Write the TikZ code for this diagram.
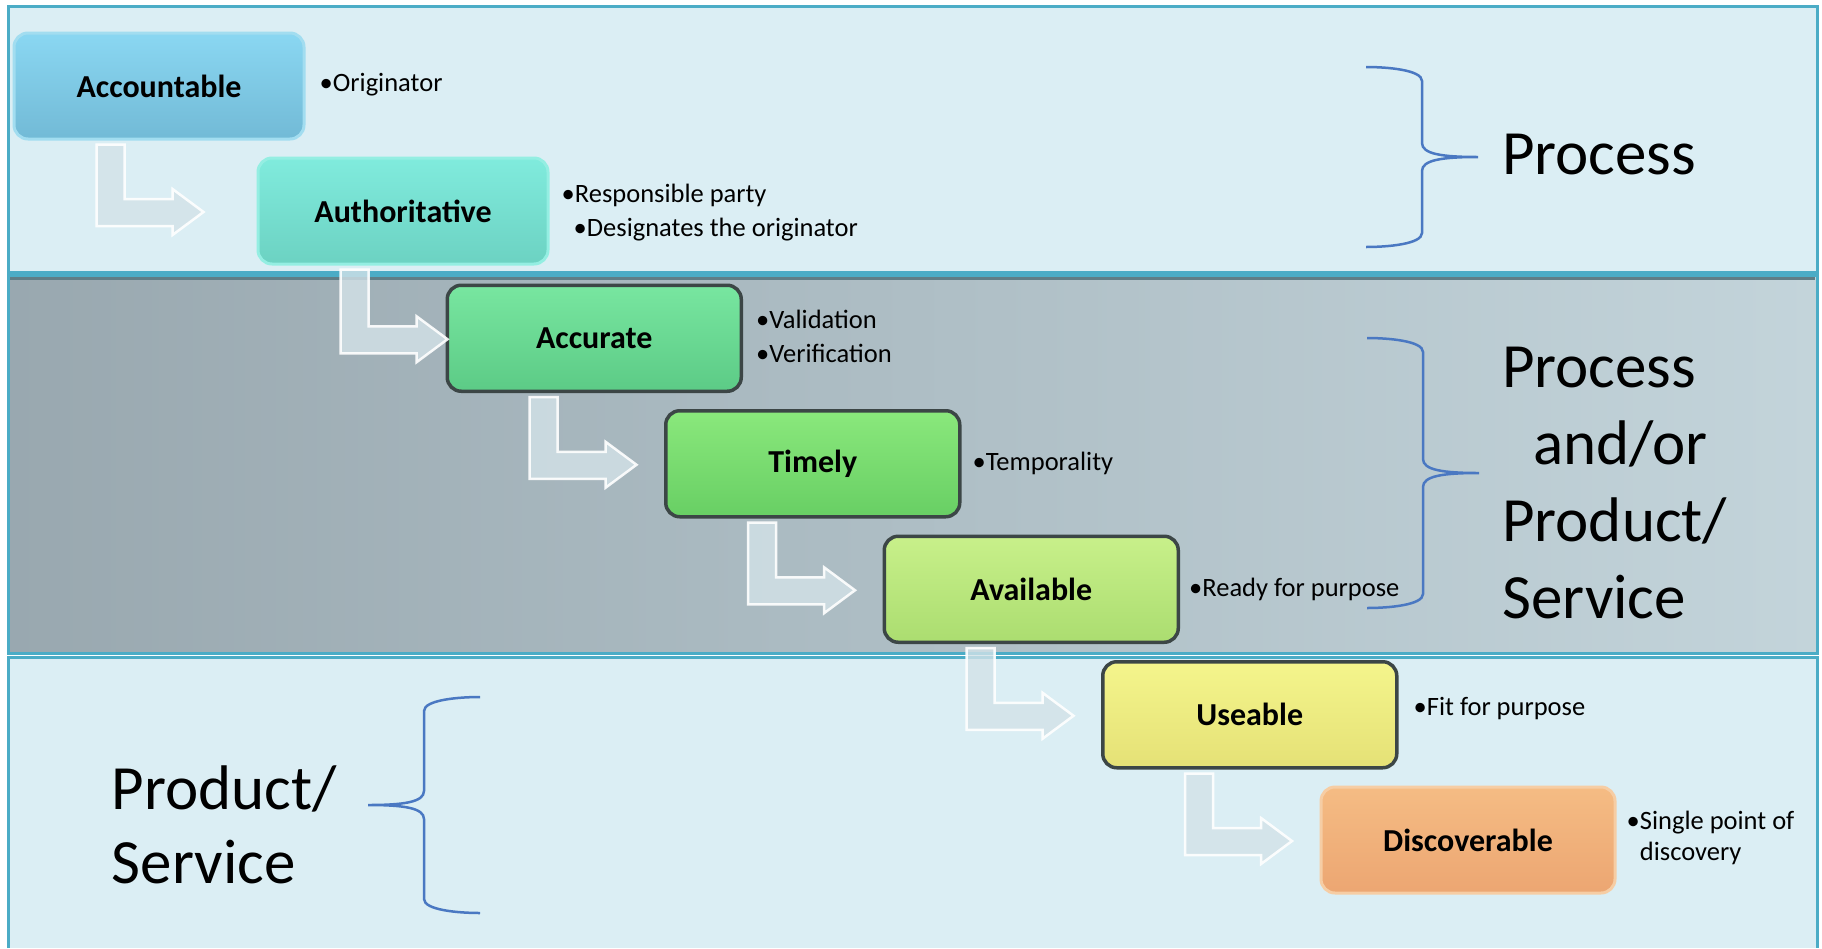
\documentclass[tikz,border=0pt]{standalone}
\usepackage{fontspec}
\setmainfont{Carlito}
\usetikzlibrary{positioning,calc}

\definecolor{panelbg}{HTML}{DBEEF4}
\definecolor{panelrule}{HTML}{4BACC6}
\definecolor{panelshade}{HTML}{5F7D86}
\definecolor{midleft}{HTML}{84929A}
\definecolor{midright}{HTML}{D8EAF0}
\definecolor{bracecol}{HTML}{4A78C2}
\definecolor{rimgray}{HTML}{3C4646}
\definecolor{arrowface}{HTML}{D3E2E8}
\definecolor{accTop}{HTML}{8AD7F2}\definecolor{accBot}{HTML}{72BAD6}\definecolor{accRim}{HTML}{A2DDF0}
\definecolor{autTop}{HTML}{80EBDD}\definecolor{autBot}{HTML}{6CD2C2}\definecolor{autRim}{HTML}{94EEE2}
\definecolor{acuTop}{HTML}{78E6A0}\definecolor{acuBot}{HTML}{5CCB86}
\definecolor{timTop}{HTML}{8AE87C}\definecolor{timBot}{HTML}{68CF64}
\definecolor{avaTop}{HTML}{C8F08A}\definecolor{avaBot}{HTML}{ABDD70}
\definecolor{useTop}{HTML}{F4F58C}\definecolor{useBot}{HTML}{E5E176}
\definecolor{disTop}{HTML}{F5BC84}\definecolor{disBot}{HTML}{ECA672}\definecolor{disRim}{HTML}{F6CDA4}

\tikzset{
  stage/.style={rounded corners=14pt, minimum width=290pt, minimum height=106pt,
    line width=3pt, inner sep=0pt, font=\fontsize{32}{38}\selectfont\bfseries},
  rimdark/.style={draw=rimgray, line width=3.5pt, minimum width=294pt},
  note/.style={font=\fontsize{26.5}{34}\selectfont, align=left, inner sep=0pt},
  big/.style={font=\fontsize{63}{77}\selectfont, align=left, inner sep=0pt},
  brace/.style={draw=bracecol, line width=2.5pt},
  bentarrow/.style={fill=arrowface, fill opacity=.8, draw=white, draw opacity=.9,
    line width=2.5pt, line join=miter},
}

% L-shaped step arrow from one stage to the next
\newcommand\bentlink[2]{%
  \path[bentarrow] let \p1=(#1.south west), \p2=(#2.west) in
    (\x1+84pt,\y1-4pt) -- (\x1+112pt,\y1-4pt) -- (\x1+112pt,\y2+12pt)
    -- (\x1+160pt,\y2+12pt) -- (\x1+160pt,\y2+22pt) -- (\x1+191pt,\y2-1pt)
    -- (\x1+160pt,\y2-24pt) -- (\x1+160pt,\y2-15pt) -- (\x1+84pt,\y2-15pt) -- cycle;
}
% curly brace: tip, half height, direction (1 = tip right, -1 = tip left)
\newcommand\curlybrace[3]{%
  \draw[brace, shift={(#1)}, xscale=#3]
    (-112,-#2) .. controls (-90,-#2) and (-56,-#2+3) .. (-56,-#2+14)
    -- (-56,-14) .. controls (-56,-3) and (-36,0) .. (0,0)
    .. controls (-36,0) and (-56,3) .. (-56,14)
    -- (-56,#2-14) .. controls (-56,#2-3) and (-90,#2) .. (-112,#2);
}

\begin{document}
\begin{tikzpicture}[x=1pt, y=-1pt]
\useasboundingbox (0,0) rectangle (1822,948);
\fill[white] (0,0) rectangle (1822,948);

% bands
\fill[panelbg] (8,6) rectangle (1817,272);
\draw[panelrule, line width=3pt] (8,6) rectangle (1817,272);
\begin{scope}
  \clip (8,275) rectangle (1817,653);
  \shade[left color=midleft, right color=midright] (-897,275) rectangle (2722,653);
\end{scope}
\draw[panelrule, line width=3pt] (8,275) rectangle (1817,653);
\draw[panelshade, line width=3pt] (10,278) -- (1815,278);
\fill[panelbg] (8,657) rectangle (1817,948);
\draw[panelrule, line width=3pt] (8,948) -- (8,657) -- (1817,657) -- (1817,948);

% stages
\node[stage, top color=accTop, bottom color=accBot, draw=accRim] (acc) at (159,86) {Accountable};
\node[stage, top color=autTop, bottom color=autBot, draw=autRim] (aut) [below right=16pt and -49pt of acc] {Authoritative};
\node[stage, rimdark, top color=acuTop, bottom color=acuBot] (acu) [below right=18pt and -104pt of aut] {Accurate};
\node[stage, rimdark, top color=timTop, bottom color=timBot] (tim) [below right=16pt and -79pt of acu] {Timely};
\node[stage, rimdark, top color=avaTop, bottom color=avaBot] (ava) [below right=16pt and -79pt of tim] {Available};
\node[stage, rimdark, top color=useTop, bottom color=useBot] (use) [below right=16pt and -79pt of ava] {Useable};
\node[stage, top color=disTop, bottom color=disBot, draw=disRim, minimum width=294pt] (dis) [below right=16pt and -79pt of use] {Discoverable};

\foreach \a/\b in {acc/aut, aut/acu, acu/tim, tim/ava, ava/use, use/dis}
  \bentlink{\a}{\b};

% notes
\node[note, right=14pt of acc, yshift=1pt] (accN) {•Originator};
\node[note, right=12pt of aut, yshift=-2pt] (autN) {•Responsible party\\\hspace*{12pt}•Designates the originator};
\node[note, right=13pt of acu, yshift=2pt] (acuN) {•Validation\\•Verification};
\node[note, right=11pt of tim] (timN) {•Temporality};
\node[note, right=9pt of ava] (avaN) {•Ready for purpose};
\node[note, right=15pt of use, yshift=6pt] (useN) {•Fit for purpose};
\node[note, right=10pt of dis, yshift=2pt, font=\fontsize{26.5}{31}\selectfont] (disN) {•Single point of\\\phantom{•}discovery};

% braces and scopes
\coordinate (procTip) at (1478,157);
\coordinate (mixTip) at (1479,473);
\coordinate (prodTip) at (368,805);
\curlybrace{procTip}{90}{1}
\curlybrace{mixTip}{135}{1}
\curlybrace{prodTip}{108}{-1}

\node[big, right=24pt of procTip, yshift=2pt] (procL) {Process};
\node[big, right=23pt of mixTip, yshift=-10pt] (mixL) {Process\\\hspace*{31pt}and/or\\Product/\\Service};
\node[big, left=31pt of prodTip, yshift=-20pt, font=\fontsize{63}{74}\selectfont] (prodL) {Product/\\Service};
\end{tikzpicture}
\end{document}
